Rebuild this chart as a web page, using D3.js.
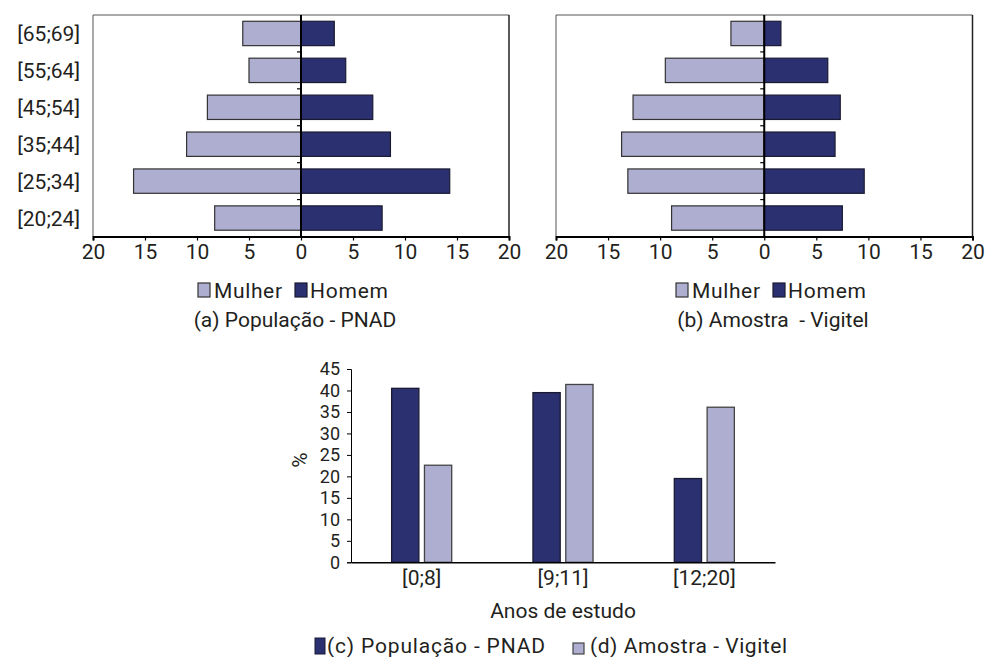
<!DOCTYPE html>
<html>
<head>
<meta charset="utf-8">
<script src="https://cdn.jsdelivr.net/npm/d3@7"></script>
<style>
  html, body { margin: 0; padding: 0; background: #fff; }
  svg { display: block; }
  text { font-family: Roboto, "DejaVu Sans", sans-serif; fill: #231f20; }
</style>
</head>
<body>
<svg id="chart" width="986" height="657"></svg>
<script>
// ---- data ----
const ageGroups = ["[65;69]", "[55;64]", "[45;54]", "[35;44]", "[25;34]", "[20;24]"];
const pnadMulher = [5.6, 5.0, 9.0, 11.0, 16.1, 8.3];
const pnadHomem  = [3.2, 4.3, 6.9, 8.6, 14.3, 7.8];
const vigMulher  = [3.2, 9.5, 12.6, 13.7, 13.1, 8.9];
const vigHomem   = [1.6, 6.1, 7.3, 6.8, 9.6, 7.5];
const pyrTicks = [-20, -15, -10, -5, 0, 5, 10, 15, 20];
const sexLabels = ["Mulher", "Homem"];
const captions = ["(a) População - PNAD", "(b) Amostra  - Vigitel"];

const eduCats = ["[0;8]", "[9;11]", "[12;20]"];
const eduPNAD = [40.5, 39.5, 19.5];
const eduVig  = [22.6, 41.4, 36.1];
const eduTicks = [0, 5, 10, 15, 20, 25, 30, 35, 40, 45];
const eduSeries = ["(c) População - PNAD", "(d) Amostra - Vigitel"];

const DARK = "#2b3170", LIGHT = "#aeaed0";
const FS = 21;

const svg = d3.select("#chart");

function pyramid(left, right, top, bottom, mulher, homem, showCats, caption, legendX) {
  const g = svg.append("g");
  const x = d3.scaleLinear().domain([-20, 20]).range([left, right]);
  const y = d3.scaleBand().domain(ageGroups).range([top, bottom]).paddingInner(0.34).paddingOuter(0.17);

  // frame
  g.append("line").attr("x1", left).attr("x2", right).attr("y1", top).attr("y2", top).attr("stroke", "#555").attr("stroke-width", 1);
  g.append("line").attr("x1", left).attr("x2", left).attr("y1", top).attr("y2", bottom).attr("stroke", "#555").attr("stroke-width", 1);
  g.append("line").attr("x1", right).attr("x2", right).attr("y1", top).attr("y2", bottom).attr("stroke", "#222").attr("stroke-width", 1.5);

  // bars
  g.selectAll(".m").data(ageGroups).join("rect")
    .attr("x", (d, i) => x(-mulher[i])).attr("width", (d, i) => x(0) - x(-mulher[i]))
    .attr("y", d => y(d)).attr("height", y.bandwidth())
    .attr("fill", LIGHT).attr("stroke", "#333").attr("stroke-width", 1.2);
  g.selectAll(".h").data(ageGroups).join("rect")
    .attr("x", x(0)).attr("width", (d, i) => x(homem[i]) - x(0))
    .attr("y", d => y(d)).attr("height", y.bandwidth())
    .attr("fill", DARK).attr("stroke", "#1a1a33").attr("stroke-width", 1.2);

  // category boundary ticks at zero line
  g.selectAll(".ct").data(d3.range(1, ageGroups.length)).join("line")
    .attr("x1", x(0) - 4).attr("x2", x(0))
    .attr("y1", i => top + i * (bottom - top) / ageGroups.length)
    .attr("y2", i => top + i * (bottom - top) / ageGroups.length)
    .attr("stroke", "#000").attr("stroke-width", 1.2);

  // zero line
  g.append("line").attr("x1", x(0)).attr("x2", x(0)).attr("y1", top).attr("y2", bottom).attr("stroke", "#000").attr("stroke-width", 2);

  // x axis
  const ax = g.append("g").attr("transform", `translate(0,${bottom})`)
    .call(d3.axisBottom(x).tickValues(pyrTicks).tickFormat(d => Math.abs(d)).tickSize(4).tickPadding(4));
  ax.select(".domain").attr("stroke", "#000").attr("stroke-width", 2);
  ax.selectAll(".tick line").attr("stroke", "#000").attr("stroke-width", 1.2);
  ax.selectAll("text").attr("font-size", FS).attr("font-family", "Roboto").attr("fill", "#231f20");

  if (showCats) {
    g.selectAll(".cl").data(ageGroups).join("text")
      .attr("x", left - 13).attr("y", d => y(d) + y.bandwidth() / 2)
      .attr("dy", "0.36em").attr("text-anchor", "end").attr("font-size", FS).text(d => d);
  }

  // legend
  const lg = g.append("g").attr("transform", `translate(${legendX},298)`);
  lg.append("rect").attr("x", 0).attr("y", -15).attr("width", 12).attr("height", 14)
    .attr("fill", LIGHT).attr("stroke", "#333").attr("stroke-width", 1.2);
  lg.append("text").attr("x", 16).attr("y", 0).attr("font-size", FS)
    .attr("textLength", 68).attr("lengthAdjust", "spacing").text(sexLabels[0]);
  lg.append("rect").attr("x", 97).attr("y", -15).attr("width", 12).attr("height", 14)
    .attr("fill", DARK).attr("stroke", "#1a1a33").attr("stroke-width", 1.2);
  lg.append("text").attr("x", 112).attr("y", 0).attr("font-size", FS)
    .attr("textLength", 78).attr("lengthAdjust", "spacing").text(sexLabels[1]);

  g.append("text").attr("x", legendX + 97).attr("y", 327).attr("text-anchor", "middle")
    .attr("font-size", FS).style("white-space", "pre").text(caption);
}

pyramid(93, 509, 15, 236.5, pnadMulher, pnadHomem, true, captions[0], 198);
pyramid(556, 972.5, 15, 236.5, vigMulher, vigHomem, false, captions[1], 676);

// ---- bottom chart ----
(function () {
  const left = 351, right = 775, top = 369, bottom = 562.3;
  const g = svg.append("g");
  const y = d3.scaleLinear().domain([0, 45]).range([bottom, top]);
  const x0 = d3.scaleBand().domain(eduCats).range([left, right]).paddingInner(0.575).paddingOuter(0.2875);
  const x1 = d3.scaleBand().domain([0, 1]).range([0, x0.bandwidth()]).paddingInner(0.17);
  const vals = [eduPNAD, eduVig];
  const cols = [DARK, LIGHT];
  const strokes = ["#1a1a33", "#444"];

  eduCats.forEach((c, ci) => {
    [0, 1].forEach(s => {
      g.append("rect")
        .attr("x", x0(c) + x1(s)).attr("width", x1.bandwidth())
        .attr("y", y(vals[s][ci])).attr("height", bottom - y(vals[s][ci]))
        .attr("fill", cols[s]).attr("stroke", strokes[s]).attr("stroke-width", 1.3);
    });
  });

  const ay = g.append("g").attr("transform", `translate(${left},0)`)
    .call(d3.axisLeft(y).tickValues(eduTicks).tickSize(4).tickPadding(7));
  ay.select(".domain").attr("stroke", "#000").attr("stroke-width", 1);
  ay.selectAll(".tick line").attr("stroke", "#000");
  ay.selectAll("text").attr("font-size", 18).attr("font-family", "Roboto").attr("fill", "#231f20");

  const axb = g.append("g").attr("transform", `translate(0,${bottom})`)
    .call(d3.axisBottom(x0).tickSize(0).tickPadding(8));
  axb.select(".domain").attr("stroke", "#000").attr("stroke-width", 1.5);
  axb.selectAll("text").attr("font-size", FS).attr("font-family", "Roboto").attr("fill", "#231f20");

  g.append("text").attr("transform", `translate(307,460) rotate(-90)`).attr("text-anchor", "middle")
    .attr("font-size", FS).text("%");

  g.append("text").attr("x", (left + right) / 2).attr("y", 618).attr("text-anchor", "middle")
    .attr("font-size", FS).text("Anos de estudo");

  // legend
  const lg = g.append("g").attr("transform", "translate(315,653)");
  lg.append("rect").attr("x", 0).attr("y", -15).attr("width", 10).attr("height", 16).attr("fill", DARK).attr("stroke", "#1a1a33").attr("stroke-width", 1);
  lg.append("text").attr("x", 12).attr("y", 0).attr("font-size", FS)
    .attr("textLength", 218).attr("lengthAdjust", "spacing").text(eduSeries[0]);
  const sx = 258;
  lg.append("rect").attr("x", sx).attr("y", -10).attr("width", 11).attr("height", 11).attr("fill", LIGHT).attr("stroke", "#444").attr("stroke-width", 1.2);
  lg.append("text").attr("x", sx + 17).attr("y", 0).attr("font-size", FS)
    .attr("textLength", 197).attr("lengthAdjust", "spacing").text(eduSeries[1]);
})();
</script>
</body>
</html>
